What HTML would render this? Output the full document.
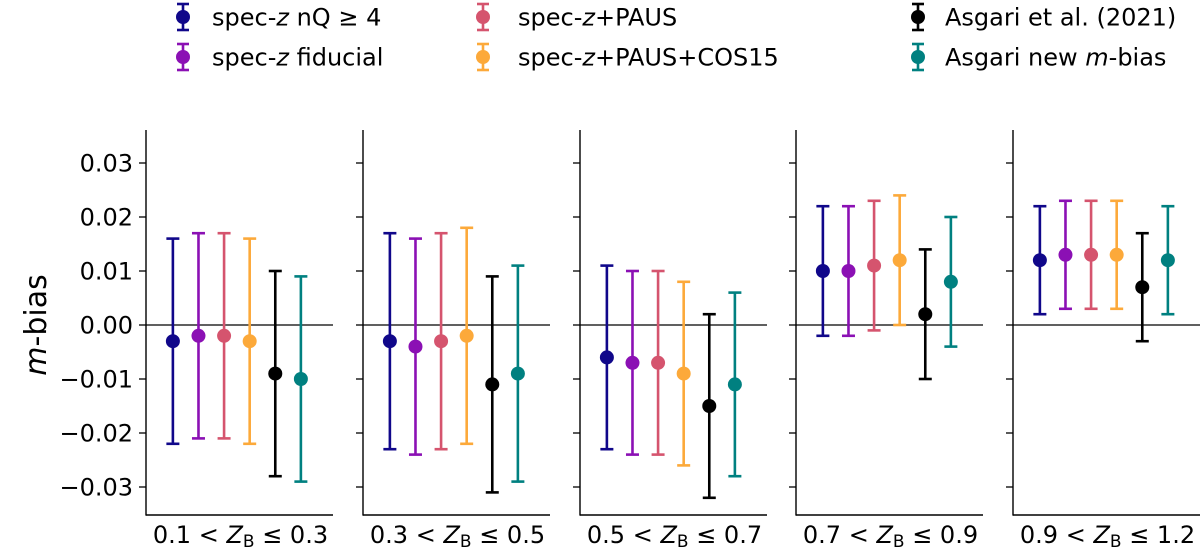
<!DOCTYPE html>
<html><head><meta charset="utf-8"><style>
body{margin:0;background:#fff;}
svg text{font-family:"DejaVu Sans","Liberation Sans",sans-serif;fill:#000;}
</style></head><body>
<svg id="chart" width="1200" height="549" viewBox="0 0 1200 549" xmlns="http://www.w3.org/2000/svg">
<g id="legend"></g>
<g id="panels"></g>
<text transform="translate(46,325) rotate(-90)" text-anchor="middle" font-size="30"><tspan font-style="italic">m</tspan>-bias</text>
</svg>
<script>
const seriesNames = ["spec-z nQ ≥ 4","spec-z fiducial","spec-z+PAUS","spec-z+PAUS+COS15","Asgari et al. (2021)","Asgari new m-bias"];
const seriesColors = ["#10078a","#8b10b4","#d5546e","#fca93a","#000000","#008080"];
const binLabels = [["0.1","0.3"],["0.3","0.5"],["0.5","0.7"],["0.7","0.9"],["0.9","1.2"]];
const values = [
 [-0.003,-0.002,-0.002,-0.003,-0.009,-0.010],
 [-0.003,-0.004,-0.003,-0.002,-0.011,-0.009],
 [-0.006,-0.007,-0.007,-0.009,-0.015,-0.011],
 [0.010,0.010,0.011,0.012,0.002,0.008],
 [0.012,0.013,0.013,0.013,0.007,0.012]
];
const lows = [
 [-0.022,-0.021,-0.021,-0.022,-0.028,-0.029],
 [-0.023,-0.024,-0.023,-0.022,-0.031,-0.029],
 [-0.023,-0.024,-0.024,-0.026,-0.032,-0.028],
 [-0.002,-0.002,-0.001,0.000,-0.010,-0.004],
 [0.002,0.003,0.003,0.003,-0.003,0.002]
];
const highs = [
 [0.016,0.017,0.017,0.016,0.010,0.009],
 [0.017,0.016,0.017,0.018,0.009,0.011],
 [0.011,0.010,0.010,0.008,0.002,0.006],
 [0.022,0.022,0.023,0.024,0.014,0.020],
 [0.022,0.023,0.023,0.023,0.017,0.022]
];
const yTicks = [-0.03,-0.02,-0.01,0,0.01,0.02,0.03];
const yTickLabels = ["−0.03","−0.02","−0.01","0.00","0.01","0.02","0.03"];

const NS="http://www.w3.org/2000/svg";
function mk(tag,attrs,parent){const e=document.createElementNS(NS,tag);for(const k in attrs)e.setAttribute(k,attrs[k]);parent.appendChild(e);return e;}
const axTop=130,axBottom=515,panelW=187,panelLefts=[146,363,580,796,1013];
const y=v=>325-v*5400;
const x=(left,i)=>left+(i+1.05)*25.6;
const panels=document.getElementById('panels');
function errbar(g,cx,v,lo,hi,col){
  mk('line',{x1:cx,x2:cx,y1:y(hi),y2:y(lo),stroke:col,'stroke-width':2.6},g);
  mk('line',{x1:cx-6.5,x2:cx+6.5,y1:y(hi),y2:y(hi),stroke:col,'stroke-width':2.6},g);
  mk('line',{x1:cx-6.5,x2:cx+6.5,y1:y(lo),y2:y(lo),stroke:col,'stroke-width':2.6},g);
  mk('circle',{cx:cx,cy:y(v),r:7,fill:col},g);
}
panelLefts.forEach((L,p)=>{
  const g=mk('g',{},panels);
  
  
  const z=mk('line',{x1:L,x2:L+panelW,y1:y(0),y2:y(0),stroke:'#000','stroke-width':1.3},g);
  
  
  const ls=mk('line',{x1:L,x2:L,y1:axTop,y2:axBottom+0.6,stroke:'#000','stroke-width':1.4},g);
  
  
  const bs=mk('line',{x1:L,x2:L+panelW,y1:axBottom,y2:axBottom,stroke:'#000','stroke-width':1.4},g);
  
  
  yTicks.forEach((t,k)=>{
    const tk=mk('line',{x1:L-7,x2:L,y1:y(t),y2:y(t),stroke:'#000','stroke-width':1.3},g);
    
    
    if(p===0){
      const tl=mk('text',{x:L-13,y:y(t)+8.5,'text-anchor':'end','font-size':24},g);
      tl.textContent=yTickLabels[k];
      
      
    }
  });
  values[p].forEach((v,i)=>{
    const eg=mk('g',{},g);
    
    
    errbar(eg,x(L,i),v,lows[p][i],highs[p][i],seriesColors[i]);
  });
  const xl=mk('text',{x:L+panelW/2+1,y:543,'text-anchor':'middle','font-size':24},g);
  
  
  xl.innerHTML=binLabels[p][0]+' &lt; <tspan font-style="italic">Z</tspan><tspan font-size="17" dy="4">B</tspan><tspan dy="-4"> ≤ '+binLabels[p][1]+'</tspan>';
});
const legend=document.getElementById('legend');
const legPos=[[183,212,17],[183,212,57],[483,518,17],[483,518,57],[918,945,17],[918,945,57]];
const legHTML=['spec-<tspan font-style="italic">z</tspan> nQ ≥ 4','spec-<tspan font-style="italic">z</tspan> fiducial','spec-<tspan font-style="italic">z</tspan>+PAUS','spec-<tspan font-style="italic">z</tspan>+PAUS+COS15','Asgari et al. (2021)','Asgari new <tspan font-style="italic">m</tspan>-bias'];
legPos.forEach((pp,i)=>{
  const g=mk('g',{},legend);
  
  
  const c=seriesColors[i];
  mk('line',{x1:pp[0],x2:pp[0],y1:pp[2]-13,y2:pp[2]+13,stroke:c,'stroke-width':2.6},g);
  mk('line',{x1:pp[0]-6,x2:pp[0]+6,y1:pp[2]-13,y2:pp[2]-13,stroke:c,'stroke-width':2.6},g);
  mk('line',{x1:pp[0]-6,x2:pp[0]+6,y1:pp[2]+13,y2:pp[2]+13,stroke:c,'stroke-width':2.6},g);
  mk('circle',{cx:pp[0],cy:pp[2],r:7,fill:c},g);
  const t=mk('text',{x:pp[1],y:pp[2]+8.5,'font-size':24},g);
  t.innerHTML=legHTML[i];
});
</script>
</body></html>
